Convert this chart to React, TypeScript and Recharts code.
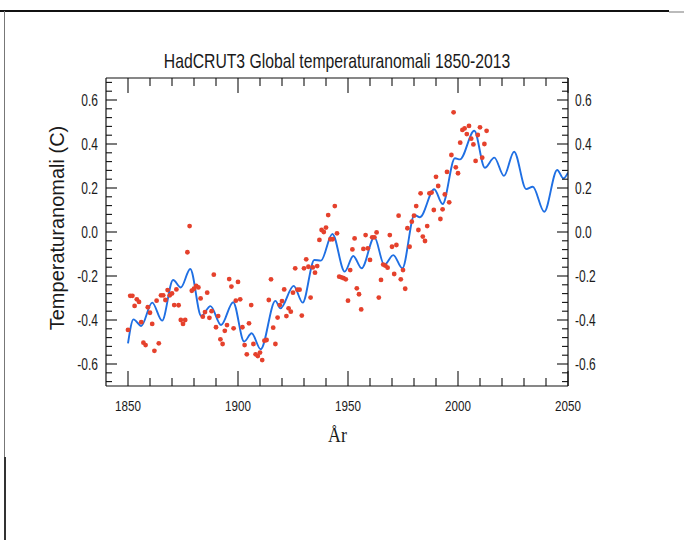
import React from "react";
import { ComposedChart, Line, Scatter, XAxis, YAxis } from "recharts";

// annual anomalies, 1850..2013
const FIRST_YEAR = 1850;
const observed = [
  -0.445, -0.29, -0.29, -0.336, -0.306, -0.318, -0.41, -0.503, -0.514, -0.342,
  -0.367, -0.418, -0.54, -0.312, -0.506, -0.288, -0.288, -0.309, -0.264, -0.288,
  -0.279, -0.332, -0.261, -0.333, -0.4, -0.418, -0.4, -0.092, 0.027, -0.267,
  -0.258, -0.245, -0.252, -0.302, -0.385, -0.364, -0.276, -0.39, -0.36, -0.194,
  -0.433, -0.382, -0.488, -0.509, -0.449, -0.423, -0.214, -0.248, -0.438, -0.312,
  -0.227, -0.306, -0.433, -0.514, -0.556, -0.415, -0.332, -0.509, -0.556, -0.564,
  -0.548, -0.582, -0.494, -0.491, -0.309, -0.215, -0.435, -0.509, -0.389, -0.332,
  -0.314, -0.261, -0.382, -0.347, -0.362, -0.276, -0.165, -0.262, -0.262, -0.38,
  -0.165, -0.124, -0.158, -0.298, -0.161, -0.185, -0.155, -0.036, 0.009, 0.0,
  0.02, 0.077, -0.033, -0.033, 0.118, -0.006, -0.203, -0.206, -0.21, -0.215,
  -0.312, -0.173, -0.079, -0.029, -0.256, -0.283, -0.352, -0.077, -0.014, -0.074,
  -0.127, -0.024, -0.024, -0.002, -0.298, -0.218, -0.148, -0.153, -0.162, -0.014,
  -0.067, -0.191, -0.059, 0.074, -0.215, -0.173, -0.258, 0.017, -0.067, 0.047,
  0.074, 0.118, 0.009, 0.176, -0.021, -0.041, 0.027, 0.176, 0.179, 0.1,
  0.251, 0.209, 0.059, 0.103, 0.171, 0.273, 0.135, 0.35, 0.544, 0.294,
  0.267, 0.406, 0.464, 0.471, 0.445, 0.482, 0.424, 0.398, 0.323, 0.441,
  0.476, 0.338, 0.4, 0.46,
];

// fitted curve: turning points
const fitYears = [
  1850, 1852.5, 1856, 1861, 1865.5, 1870.5, 1874, 1878.3, 1883.3, 1887.5,
  1892.3, 1897.8, 1902.8, 1906.2, 1910.3, 1917, 1919.3, 1925.3, 1929.4, 1934.7,
  1937.7, 1942.9, 1948.5, 1952.4, 1956.2, 1962, 1966.5, 1970.6, 1974.7, 1980.2,
  1982.7, 1989.2, 1993, 1998.6, 2000.9, 2007.4, 2012.2, 2016.5, 2020.9, 2025.5,
  2031, 2034, 2039.2, 2045.1, 2047.9, 2050,
];
const fitValues = [
  -0.506, -0.397, -0.427, -0.321, -0.403, -0.218, -0.252, -0.168, -0.382, -0.337,
  -0.423, -0.319, -0.498, -0.46, -0.533, -0.313, -0.347, -0.245, -0.321, -0.127,
  -0.13, -0.009, -0.18, -0.109, -0.165, -0.024, -0.15, -0.105, -0.165, 0.077,
  0.067, 0.194, 0.127, 0.335, 0.33, 0.46, 0.292, 0.338, 0.255, 0.365,
  0.195, 0.206, 0.092, 0.282, 0.244, 0.27,
];

const xTicks = [
  1850, 1860, 1870, 1880, 1890, 1900, 1910, 1920, 1930, 1940, 1950,
  1960, 1970, 1980, 1990, 2000, 2010, 2020, 2030, 2040, 2050,
];
const xMajor = [1850, 1900, 1950, 2000, 2050];
const yTicks = [
  -0.68, -0.64, -0.6, -0.56, -0.52, -0.48, -0.44, -0.4, -0.36, -0.32, -0.28, -0.24,
  -0.2, -0.16, -0.12, -0.08, -0.04, 0, 0.04, 0.08, 0.12, 0.16, 0.2, 0.24, 0.28,
  0.32, 0.36, 0.4, 0.44, 0.48, 0.52, 0.56, 0.6, 0.64, 0.68,
];
const yMajor = [-0.6, -0.4, -0.2, 0, 0.2, 0.4, 0.6];

const obsData = observed.map((v, i) => ({ year: FIRST_YEAR + i, value: v }));
const fitData = fitYears.map((yr, i) => ({ year: yr, value: fitValues[i] }));

const FONT = "'Liberation Sans', Arial, sans-serif";
const isMajorY = (v: number) => yMajor.some((m) => Math.abs(m - v) < 1e-6);
const fmtY = (v: number) => (Math.abs(v) < 1e-9 ? "0.0" : v.toFixed(1));

function SquishedText({ x, y, anchor, size, children }: any) {
  return (
    <text
      transform={`translate(${x},${y}) scale(0.75,1)`}
      textAnchor={anchor}
      fontSize={size}
      fontFamily={FONT}
      fill="#1a1a1a"
    >
      {children}
    </text>
  );
}

function BottomTick({ x, y, payload }: any) {
  const major = xMajor.includes(payload.value);
  return (
    <g>
      <line x1={x} y1={y} x2={x} y2={y - (major ? 15 : 8)} stroke="#111" strokeWidth={1.1} />
      {major && (
        <SquishedText x={x} y={y + 25} anchor="middle" size={15.5}>
          {payload.value}
        </SquishedText>
      )}
    </g>
  );
}

function TopTick({ x, y, payload }: any) {
  const major = xMajor.includes(payload.value);
  return <line x1={x} y1={y} x2={x} y2={y + (major ? 15 : 8)} stroke="#111" strokeWidth={1.1} />;
}

function LeftTick({ x, y, payload }: any) {
  const major = isMajorY(payload.value);
  return (
    <g>
      <line x1={x} y1={y} x2={x + (major ? 11 : 6)} y2={y} stroke="#111" strokeWidth={1.1} />
      {major && (
        <SquishedText x={x - 8} y={y + 5.5} anchor="end" size={16}>
          {fmtY(payload.value)}
        </SquishedText>
      )}
    </g>
  );
}

function RightTick({ x, y, payload }: any) {
  const major = isMajorY(payload.value);
  return (
    <g>
      <line x1={x} y1={y} x2={x - (major ? 11 : 6)} y2={y} stroke="#111" strokeWidth={1.1} />
      {major && (
        <SquishedText x={x + 7} y={y + 5.5} anchor="start" size={16}>
          {fmtY(payload.value)}
        </SquishedText>
      )}
    </g>
  );
}

const RedDot = (props: any) => <circle cx={props.cx} cy={props.cy} r={2.4} fill="#e5412c" />;

export default function App() {
  return (
    <div style={{ position: "absolute", left: 0, top: 0, width: 684, height: 540, background: "#fff" }}>
      {/* scanned page frame */}
      <div style={{ position: "absolute", left: 0, top: 10, width: 669, height: 1.6, background: "#111" }} />
      <div style={{ position: "absolute", left: 669, top: 11, width: 15, height: 2, background: "#bbb" }} />
      <div style={{ position: "absolute", left: 4, top: 11, width: 1.4, height: 529, background: "#777" }} />
      <div style={{ position: "absolute", left: 4, top: 457, width: 2.4, height: 83, background: "#333" }} />

      <ComposedChart
        width={684}
        height={540}
        margin={{ top: 77, right: 115, bottom: 153, left: 105 }}
        style={{ position: "absolute", left: 0, top: 0 }}
      >
        <XAxis
          xAxisId="b"
          dataKey="year"
          type="number"
          domain={[1840, 2050]}
          allowDataOverflow
          ticks={xTicks}
          interval={0}
          height={1}
          tickSize={0}
          tickMargin={0}
          tickLine={false}
          tick={(p: any) => <BottomTick {...p} />}
          axisLine={{ stroke: "#111", strokeWidth: 1.2 }}
        />
        <XAxis
          xAxisId="t"
          orientation="top"
          dataKey="year"
          type="number"
          domain={[1840, 2050]}
          allowDataOverflow
          ticks={xTicks}
          interval={0}
          height={1}
          tickSize={0}
          tickMargin={0}
          tickLine={false}
          tick={(p: any) => <TopTick {...p} />}
          axisLine={{ stroke: "#111", strokeWidth: 1.2 }}
        />
        <YAxis
          yAxisId="l"
          type="number"
          domain={[-0.7, 0.7]}
          allowDataOverflow
          ticks={yTicks}
          interval={0}
          width={1}
          tickSize={0}
          tickMargin={0}
          tickLine={false}
          tick={(p: any) => <LeftTick {...p} />}
          axisLine={{ stroke: "#111", strokeWidth: 1.2 }}
        />
        <YAxis
          yAxisId="r"
          orientation="right"
          type="number"
          domain={[-0.7, 0.7]}
          allowDataOverflow
          ticks={yTicks}
          interval={0}
          width={1}
          tickSize={0}
          tickMargin={0}
          tickLine={false}
          tick={(p: any) => <RightTick {...p} />}
          axisLine={{ stroke: "#111", strokeWidth: 1.2 }}
        />
        <Scatter
          xAxisId="b"
          yAxisId="l"
          data={obsData}
          dataKey="value"
          shape={RedDot}
          isAnimationActive={false}
        />
        <Line
          xAxisId="b"
          yAxisId="l"
          data={fitData}
          dataKey="value"
          type="monotone"
          stroke="#1f6fe3"
          strokeWidth={1.9}
          dot={false}
          activeDot={false}
          isAnimationActive={false}
        />
      </ComposedChart>

      <svg width={684} height={540} style={{ position: "absolute", left: 0, top: 0, pointerEvents: "none" }}>
        <SquishedText x={337} y={67.5} anchor="middle" size={21}>
          HadCRUT3 Global temperaturanomali 1850-2013
        </SquishedText>
        <text
          transform="translate(64,228) rotate(-90)"
          textAnchor="middle"
          fontSize={20}
          fontFamily={FONT}
          fill="#1a1a1a"
        >
          Temperaturanomali (C)
        </text>
        <text
          transform="translate(337.5,441.5) scale(0.85,1)"
          textAnchor="middle"
          fontSize={21}
          fontFamily="'Liberation Serif', 'Times New Roman', serif"
          fill="#1a1a1a"
        >
          År
        </text>
      </svg>
    </div>
  );
}
